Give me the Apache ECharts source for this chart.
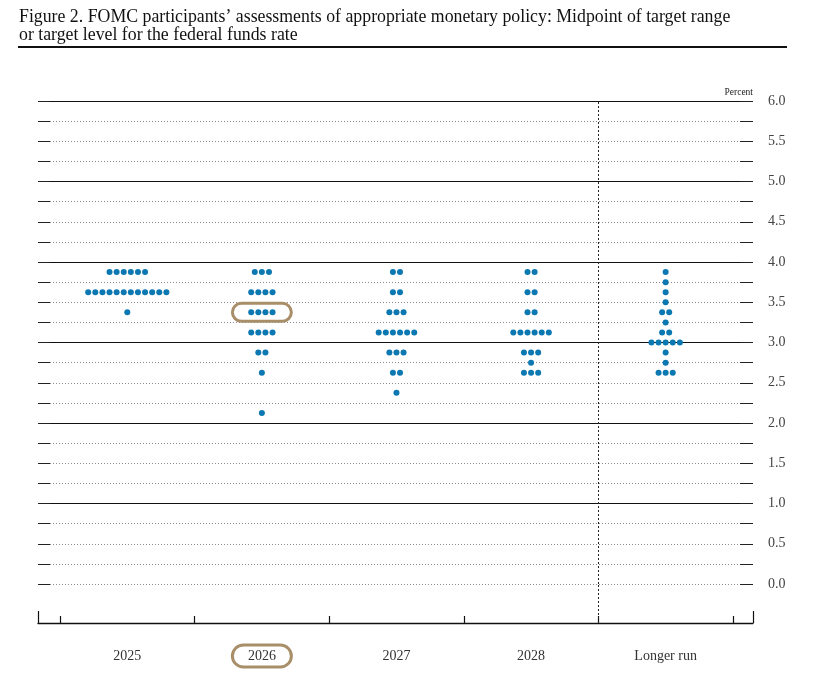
<!DOCTYPE html>
<html>
<head>
<meta charset="utf-8">
<script src="https://cdn.jsdelivr.net/npm/echarts@6/dist/echarts.min.js"></script>
<style>
html,body{margin:0;padding:0;background:#fff;}
#chart{width:815px;height:681px;}
</style>
</head>
<body>
<div id="chart"></div>
<script>
// ---- Data ----
const categories = ['2025', '2026', '2027', '2028', 'Longer run'];
const yTickLabels = ['0.0','0.5','1.0','1.5','2.0','2.5','3.0','3.5','4.0','4.5','5.0','5.5','6.0'];
// [midpoint, number of participants]
const dots2025 = [[3.875, 6], [3.625, 12], [3.375, 1]];
const dots2026 = [[3.875, 3], [3.625, 4], [3.375, 4], [3.125, 4], [2.875, 2], [2.625, 1], [2.125, 1]];
const dots2027 = [[3.875, 2], [3.625, 2], [3.375, 3], [3.125, 6], [2.875, 3], [2.625, 2], [2.375, 1]];
const dots2028 = [[3.875, 2], [3.625, 2], [3.375, 2], [3.125, 6], [2.875, 3], [2.75, 1], [2.625, 3]];
const dotsLongerRun = [[3.875, 1], [3.75, 1], [3.625, 1], [3.5, 1], [3.375, 2], [3.25, 1], [3.125, 2], [3.0, 5], [2.875, 1], [2.75, 1], [2.625, 3]];
const highlightCategory = '2026';
const highlightLevel = 3.375;

const columns = [dots2025, dots2026, dots2027, dots2028, dotsLongerRun];

// ---- Layout constants ----
const X_MIN = -0.1634, X_MAX = 5.149;
const DOT_STEP = 0.0528; // horizontal spacing between dots (in category units)
const SERIF = '"Liberation Serif", "Times New Roman", serif';
const DOT_COLOR = '#0b78b2';
const HL_COLOR = '#a88f6a';

const scatterData = [];
columns.forEach((col, ci) => {
  col.forEach(([lvl, n]) => {
    for (let j = 0; j < n; j++) {
      scatterData.push([ci + 0.5 + (j - (n - 1) / 2) * DOT_STEP, lvl]);
    }
  });
});

const chart = echarts.init(document.getElementById('chart'), null, {renderer: 'canvas'});

const option = {
  animation: false,
  backgroundColor: '#fff',
  title: {
    text: 'Figure 2. FOMC participants\u2019 assessments of appropriate monetary policy: Midpoint of target range\nor target level for the federal funds rate',
    left: 14, top: 3,
    textStyle: {fontFamily: SERIF, fontSize: 17.8, fontWeight: 'normal', color: '#111', lineHeight: 18}
  },
  grid: [
    {left: 38, right: 62, top: 101, height: 483},
    {left: 38, right: 62, top: 584, height: 39}
  ],
  xAxis: [
    {gridIndex: 0, type: 'value', min: X_MIN, max: X_MAX, show: false},
    {
      gridIndex: 1, type: 'value', min: X_MIN, max: X_MAX, position: 'bottom',
      axisLine: {show: true, onZero: false, lineStyle: {color: '#111', width: 1.3}},
      axisTick: {show: true, inside: true, length: 7, customValues: [0, 1, 2, 3, 4, 5], lineStyle: {color: '#111', width: 1.2}},
      axisLabel: {
        show: true, margin: 26, customValues: categories.map((c, i) => i + 0.5),
        formatter: v => categories[Math.round(v - 0.5)] || '',
        fontFamily: SERIF, fontSize: 14, color: '#333'
      },
      splitLine: {show: false}
    },
    {
      gridIndex: 1, type: 'value', min: X_MIN, max: X_MAX, position: 'bottom',
      axisLine: {show: false, onZero: false},
      axisTick: {show: true, inside: true, length: 12, customValues: [X_MIN, X_MAX], lineStyle: {color: '#111', width: 1.2}},
      axisLabel: {show: false},
      splitLine: {show: false}
    }
  ],
  yAxis: [
    {
      gridIndex: 0, type: 'value', min: 0, max: 6, interval: 0.25, position: 'left',
      axisLine: {show: false, onZero: false},
      axisTick: {show: true, inside: true, length: 12, lineStyle: {color: '#222', width: 1}},
      axisLabel: {show: false},
      splitLine: {show: true, lineStyle: {color: '#8a8a8a', width: 1, type: [1, 2]}}
    },
    {
      gridIndex: 0, type: 'value', min: 0, max: 6, interval: 0.25, position: 'right',
      name: 'Percent', nameLocation: 'end', nameGap: 4,
      nameTextStyle: {fontFamily: SERIF, fontSize: 9.5, color: '#222', align: 'right', padding: [0, 0, 0, 0]},
      axisLine: {show: false, onZero: false},
      axisTick: {show: true, inside: true, length: 13, lineStyle: {color: '#222', width: 1}},
      axisLabel: {
        show: true, margin: 15, fontFamily: SERIF, fontSize: 14, color: '#444',
        formatter: v => {
          const idx = Math.round(v * 2);
          return Math.abs(v * 2 - idx) < 1e-6 ? yTickLabels[idx] : '';
        }
      },
      splitLine: {show: false}
    },
    {
      gridIndex: 0, type: 'value', min: 0, max: 6, interval: 1, position: 'left',
      axisLine: {show: false, onZero: false}, axisTick: {show: false}, axisLabel: {show: false},
      splitLine: {show: true, showMinLine: false, lineStyle: {color: '#111', width: 1.1, type: 'solid'}}
    },
    {gridIndex: 1, type: 'value', min: 0, max: 1, show: false}
  ],
  series: [
    {
      type: 'scatter', xAxisIndex: 0, yAxisIndex: 0, z: 5,
      symbol: 'circle', symbolSize: 6,
      itemStyle: {color: DOT_COLOR, opacity: 1},
      data: scatterData,
      markLine: {
        silent: true, symbol: 'none', label: {show: false},
        lineStyle: {color: '#222', width: 1, type: [2, 2]},
        data: [{xAxis: 4}]
      }
    },
    {
      type: 'scatter', xAxisIndex: 1, yAxisIndex: 3, data: [],
      markLine: {
        silent: true, symbol: 'none', label: {show: false},
        lineStyle: {color: '#222', width: 1, type: [2, 2]},
        data: [{xAxis: 4}]
      }
    }
  ]
};
chart.setOption(option);

// Highlight annotations, positioned through the chart's own scales
const hlIdx = categories.indexOf(highlightCategory);
const p = chart.convertToPixel({xAxisIndex: 0, yAxisIndex: 0}, [hlIdx + 0.5, highlightLevel]);
const pl = chart.convertToPixel({xAxisIndex: 1, yAxisIndex: 3}, [hlIdx + 0.5, 0]);
chart.setOption({
  graphic: [
    {type: 'line', shape: {x1: 18, y1: 47, x2: 787, y2: 47}, style: {stroke: '#111', lineWidth: 2}},
    {type: 'rect', z: 10, shape: {x: p[0] - 29.5, y: p[1] - 9, width: 59, height: 18, r: 9},
     style: {fill: 'none', stroke: HL_COLOR, lineWidth: 3}},
    {type: 'rect', z: 10, shape: {x: pl[0] - 29.5, y: pl[1] + 22, width: 59, height: 22, r: 11},
     style: {fill: 'none', stroke: HL_COLOR, lineWidth: 3}}
  ]
});
</script>
</body>
</html>
